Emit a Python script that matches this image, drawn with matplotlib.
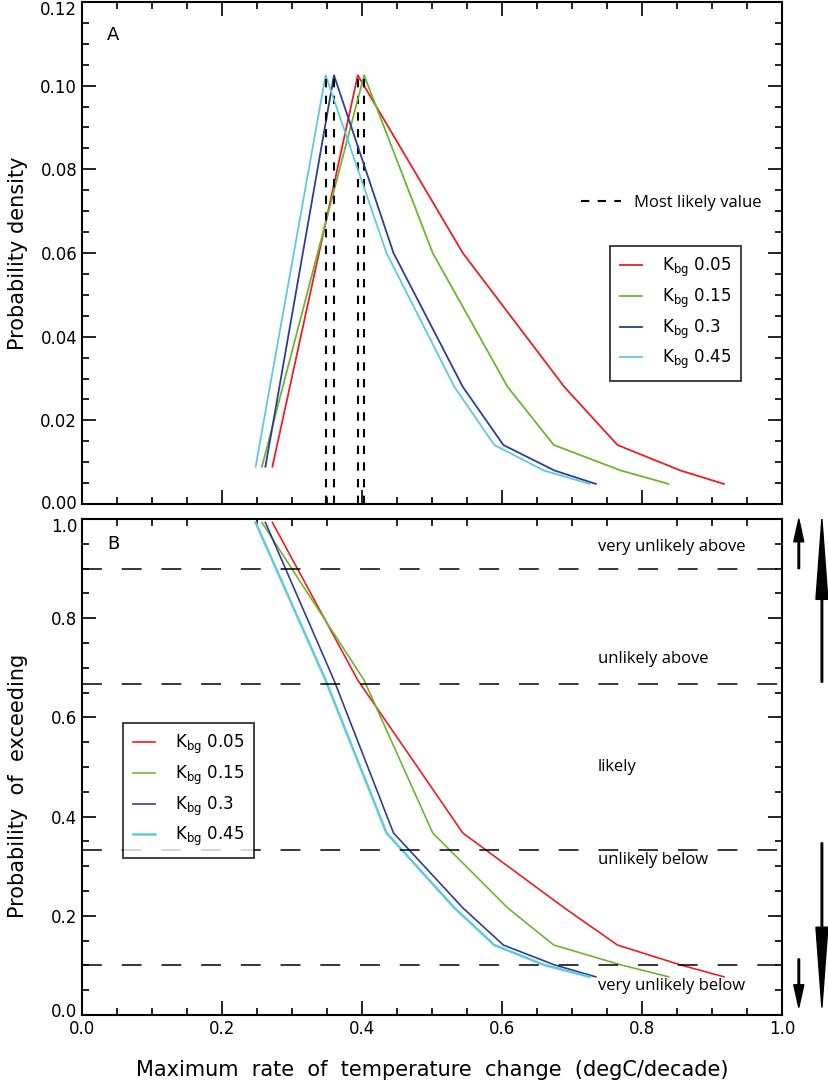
import numpy as np
import matplotlib.pyplot as plt
from matplotlib.lines import Line2D
from matplotlib.patches import FancyArrow
from matplotlib.ticker import MultipleLocator
import matplotlib.transforms as mtransforms

# max rate of temperature change (degC/decade) at each pdf node, per Kbg
rate_005 = [0.272, 0.394, 0.544, 0.689, 0.765, 0.855, 0.917]
rate_015 = [0.257, 0.403, 0.501, 0.608, 0.674, 0.770, 0.838]
rate_030 = [0.262, 0.360, 0.445, 0.544, 0.602, 0.675, 0.734]
rate_045 = [0.248, 0.348, 0.435, 0.532, 0.589, 0.660, 0.725]

# probability density and probability of exceeding at those nodes
density = [0.0089, 0.1025, 0.060, 0.028, 0.0141, 0.0080, 0.0048]
exceed = [0.993, 0.675, 0.367, 0.216, 0.141, 0.101, 0.077]

kbg_labels = ['0.05', '0.15', '0.3', '0.45']
colors = ['#ee1c24', '#6cb62f', '#2e3d97', '#5ec9df']
rates = [rate_005, rate_015, rate_030, rate_045]

# likelihood thresholds and names
thresholds = [0.9, 2/3, 1/3, 0.1]
zone_names = ['very unlikely above', 'unlikely above', 'likely',
              'unlikely below', 'very unlikely below']
zone_y = [0.943, 0.717, 0.501, 0.313, 0.059]

W, H = 829, 1083
fig = plt.figure(figsize=(W/100, H/100), dpi=100)

def px_box(l, t, r, b):
    return [l/W, 1 - b/H, (r-l)/W, (b-t)/H]

ax1 = fig.add_axes(px_box(82, 2, 782, 504))
ax2 = fig.add_axes(px_box(82, 519, 782, 1015))

tick_font = 12
for ax in (ax1, ax2):
    ax.set_xlim(0, 1.0)
    ax.xaxis.set_major_locator(MultipleLocator(0.2))
    ax.xaxis.set_minor_locator(MultipleLocator(0.05))
    ax.tick_params(which='both', direction='in', top=True, right=True,
                   labelsize=tick_font, width=1.2)
    ax.tick_params(which='major', length=10)
    ax.tick_params(which='minor', length=5)
    for s in ax.spines.values():
        s.set_linewidth(1.5)

# ---- panel A
ax1.set_ylim(0, 0.12)
ax1.yaxis.set_major_locator(MultipleLocator(0.02))
ax1.yaxis.set_minor_locator(MultipleLocator(0.005))
ax1.yaxis.set_major_formatter(plt.FormatStrFormatter('%.2f'))
ax1.tick_params(labelbottom=False)

handles = []
for r, c, lab in zip(rates, colors, kbg_labels):
    h, = ax1.plot(r, density, color=c, lw=1.3, label=r'K$_{\rm bg}$ ' + lab)
    handles.append(h)
    ax1.vlines(r[1], 0, density[1], colors='black', lw=1.5,
               linestyles=[(0, (4, 4))])

leg = ax1.legend(handles=handles, loc='upper left',
                 bbox_to_anchor=(610/W, 1 - 246/H), bbox_transform=fig.transFigure,
                 fontsize=12, frameon=True, fancybox=False, edgecolor='black',
                 handlelength=1.3, handletextpad=1.2, labelspacing=0.45,
                 borderpad=0.6, borderaxespad=0)
leg.get_frame().set_linewidth(1.3)
ax1.add_artist(leg)

ml = Line2D([], [], color='black', lw=1.5, linestyle=(0, (4, 4)))
ax1.legend([ml], ['Most likely value'], loc='center left',
           bbox_to_anchor=(566/W, 1 - 203/H), bbox_transform=fig.transFigure,
           frameon=False, handlelength=2.4, handletextpad=0.8,
           prop={'family': 'Open Sans', 'size': 12})

ax1.text(107/W, 1 - 35/H, 'A', transform=fig.transFigure, fontsize=13,
         va='center', ha='left')

# ---- panel B
ax2.set_ylim(0, 1.0)
ax2.yaxis.set_major_locator(MultipleLocator(0.2))
ax2.yaxis.set_minor_locator(MultipleLocator(0.05))
ax2.yaxis.set_major_formatter(plt.FormatStrFormatter('%.1f'))
ax2.xaxis.set_major_formatter(plt.FormatStrFormatter('%.1f'))
ax2.tick_params(top=False)

handles2 = []
for r, c, lab in zip(rates, colors, kbg_labels):
    lw = 1.8 if c == colors[3] else 1.2
    h, = ax2.plot(r, exceed, color=c, lw=lw, label=r'K$_{\rm bg}$ ' + lab)
    handles2.append(h)

for t in thresholds:
    ax2.axhline(t, color='black', lw=1.1, linestyle=(0, (13, 13)))

for name, y in zip(zone_names, zone_y):
    ax2.text(0.737, y, name, fontsize=12, family='Open Sans',
             va='center', ha='left')

leg2 = ax2.legend(handles=handles2, loc='upper left',
                  bbox_to_anchor=(123/W, 1 - 723/H), bbox_transform=fig.transFigure,
                  fontsize=12, frameon=True, fancybox=False, edgecolor='black',
                  handlelength=1.3, handletextpad=1.2, labelspacing=0.45,
                  borderpad=0.6, borderaxespad=0)
leg2.get_frame().set_linewidth(1.3)

ax2.text(107/W, 1 - 544/H, 'B', transform=fig.transFigure, fontsize=13,
         va='center', ha='left')

# likelihood arrows right of panel B
trans = mtransforms.blended_transform_factory(ax2.transAxes, ax2.transData)
arrows = [
    (1.024, 0.90, 0.10, 0.0143, 0.046),
    (1.057, 0.671, 0.329, 0.017, 0.162),
    (1.057, 0.347, -0.332, 0.017, 0.162),
    (1.024, 0.113, -0.098, 0.0143, 0.046),
]
for x, y0, dy, hw, hl in arrows:
    ax2.add_patch(FancyArrow(x, y0, 0, dy, width=0.0022, head_width=hw,
                             head_length=hl, length_includes_head=True,
                             color='black', transform=trans, clip_on=False))

# axis labels
fig.text(18/W, 1 - 253/H, 'Probability density', rotation=90, fontsize=15,
         va='center', ha='center')
fig.text(18/W, 1 - 786/H, 'Probability  of  exceeding', rotation=90, fontsize=15,
         va='center', ha='center')
fig.text(432/W, 1 - 1070/H, 'Maximum  rate  of  temperature  change  (degC/decade)',
         fontsize=15, va='center', ha='center')

# nudge end tick labels so they stay clear of each other, as in the original
fig.canvas.draw()
def nudge(ax, value, dy_px):
    for t in ax.yaxis.get_major_ticks():
        if abs(t.get_loc() - value) < 1e-9:
            off = mtransforms.ScaledTranslation(0, dy_px / 100, fig.dpi_scale_trans)
            t.label1.set_transform(t.label1.get_transform() + off)

nudge(ax1, 0.12, -6)
nudge(ax1, 0.0, 2)
nudge(ax2, 1.0, -6)
nudge(ax2, 0.0, 5)

fig.savefig('out.png', dpi=100)
